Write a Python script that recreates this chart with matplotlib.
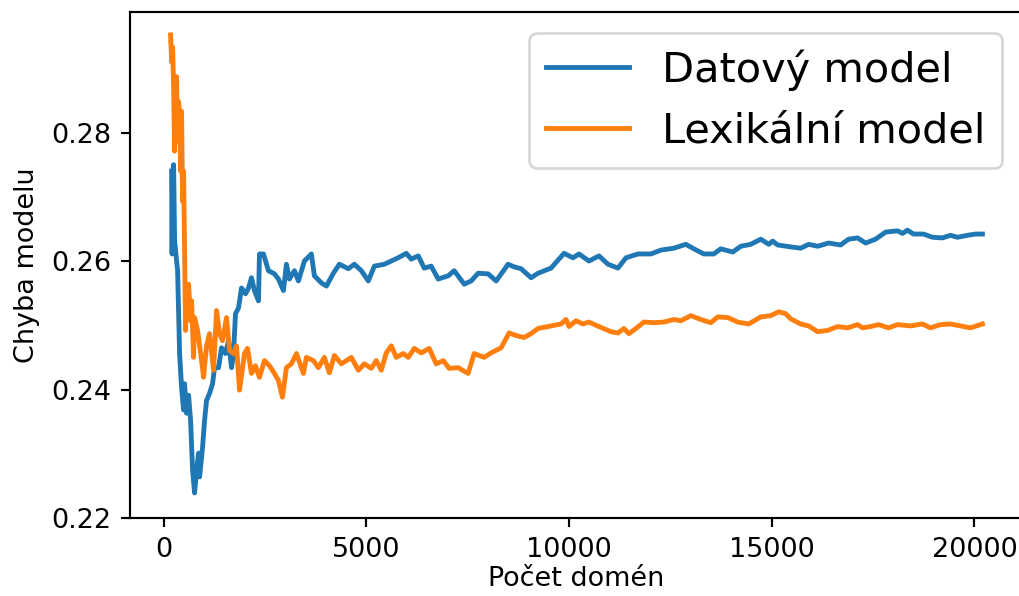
'''
Chyba datoveho a lexikalniho modelu v zavislosti na poctu domen.
'''
import matplotlib
matplotlib.use("Agg")
import matplotlib.pyplot as plt

# hodnoty
data_x = [197, 209, 222, 246, 271, 296, 345, 394, 443, 493,
          517, 566, 616, 665, 714, 764, 813, 862, 887, 961,
          1010, 1059, 1133, 1207, 1256, 1355, 1429, 1527, 1601, 1675,
          1724, 1773, 1847, 1921, 2020, 2094, 2167, 2241, 2340, 2364,
          2463, 2586, 2734, 2832, 2956, 3029, 3103, 3227, 3325, 3473,
          3645, 3719, 3892, 4015, 4187, 4335, 4557, 4704, 4877, 5049,
          5197, 5443, 5616, 5813, 5985, 6108, 6281, 6428, 6601, 6773,
          7020, 7167, 7414, 7586, 7758, 8005, 8202, 8497, 8645, 8818,
          9064, 9236, 9556, 9877, 10098, 10246, 10492, 10739, 10960, 11207,
          11404, 11699, 12019, 12266, 12586, 12881, 13079, 13325, 13571, 13744,
          14039, 14236, 14482, 14729, 14926, 15024, 15147, 15468, 15714, 15911,
          16133, 16404, 16699, 16896, 17118, 17315, 17561, 17808, 18103, 18226,
          18349, 18497, 18743, 18965, 19211, 19408, 19581, 19827, 20024, 20197]
data_err = [0.2740, 0.2611, 0.2732, 0.2750, 0.2631, 0.2616, 0.2585, 0.2456, 0.2403, 0.2368,
            0.2409, 0.2363, 0.2391, 0.2352, 0.2275, 0.2239, 0.2275, 0.2301, 0.2264, 0.2310,
            0.2352, 0.2383, 0.2394, 0.2409, 0.2434, 0.2434, 0.2465, 0.2456, 0.2476, 0.2434,
            0.2456, 0.2518, 0.2527, 0.2558, 0.2549, 0.2558, 0.2574, 0.2554, 0.2538, 0.2611,
            0.2611, 0.2585, 0.2580, 0.2572, 0.2554, 0.2595, 0.2572, 0.2585, 0.2569, 0.2600,
            0.2611, 0.2577, 0.2566, 0.2561, 0.2581, 0.2595, 0.2588, 0.2595, 0.2585, 0.2569,
            0.2592, 0.2595, 0.2600, 0.2606, 0.2612, 0.2603, 0.2608, 0.2589, 0.2592, 0.2572,
            0.2577, 0.2585, 0.2564, 0.2569, 0.2581, 0.2580, 0.2569, 0.2595, 0.2591, 0.2588,
            0.2574, 0.2581, 0.2589, 0.2612, 0.2605, 0.2611, 0.2600, 0.2608, 0.2595, 0.2589,
            0.2605, 0.2611, 0.2611, 0.2617, 0.2620, 0.2626, 0.2619, 0.2611, 0.2611, 0.2619,
            0.2614, 0.2623, 0.2626, 0.2634, 0.2626, 0.2631, 0.2625, 0.2622, 0.2620, 0.2626,
            0.2623, 0.2628, 0.2625, 0.2634, 0.2636, 0.2628, 0.2634, 0.2645, 0.2647, 0.2643,
            0.2648, 0.2642, 0.2642, 0.2637, 0.2636, 0.2640, 0.2637, 0.2640, 0.2642, 0.2642]

lex_x = [172, 197, 222, 246, 271, 296, 320, 345, 369, 394,
         419, 443, 468, 493, 517, 542, 566, 616, 665, 690,
         739, 764, 837, 936, 985, 1059, 1133, 1232, 1305, 1379,
         1453, 1552, 1626, 1724, 1798, 1872, 1995, 2069, 2167, 2266,
         2364, 2488, 2611, 2734, 2832, 2931, 3029, 3153, 3276, 3448,
         3522, 3695, 3818, 3965, 4089, 4212, 4384, 4630, 4803, 4951,
         5123, 5246, 5369, 5492, 5616, 5739, 5911, 6034, 6182, 6355,
         6552, 6724, 6896, 7044, 7266, 7512, 7660, 7906, 8079, 8325,
         8522, 8694, 8891, 9064, 9236, 9483, 9803, 9926, 10000, 10172,
         10345, 10492, 10739, 11034, 11207, 11354, 11478, 11650, 11847, 12093,
         12340, 12586, 12758, 13005, 13251, 13497, 13670, 13916, 14162, 14433,
         14729, 14975, 15172, 15344, 15468, 15714, 15911, 16133, 16379, 16625,
         16872, 17118, 17241, 17438, 17635, 17881, 18103, 18423, 18719, 18916,
         19162, 19408, 19655, 19901, 20197]
lex_err = [0.2952, 0.2910, 0.2933, 0.2871, 0.2771, 0.2879, 0.2887, 0.2786, 0.2848, 0.2833,
           0.2740, 0.2833, 0.2693, 0.2740, 0.2616, 0.2492, 0.2554, 0.2564, 0.2507, 0.2538,
           0.2450, 0.2512, 0.2492, 0.2445, 0.2419, 0.2468, 0.2487, 0.2430, 0.2523, 0.2487,
           0.2476, 0.2512, 0.2461, 0.2456, 0.2468, 0.2399, 0.2456, 0.2464, 0.2425, 0.2437,
           0.2419, 0.2445, 0.2437, 0.2425, 0.2414, 0.2388, 0.2434, 0.2440, 0.2456, 0.2425,
           0.2450, 0.2445, 0.2434, 0.2450, 0.2426, 0.2453, 0.2440, 0.2450, 0.2430, 0.2440,
           0.2433, 0.2445, 0.2430, 0.2457, 0.2468, 0.2450, 0.2456, 0.2450, 0.2464, 0.2457,
           0.2464, 0.2440, 0.2445, 0.2433, 0.2434, 0.2425, 0.2456, 0.2450, 0.2457, 0.2465,
           0.2488, 0.2484, 0.2481, 0.2487, 0.2495, 0.2498, 0.2502, 0.2509, 0.2498, 0.2507,
           0.2502, 0.2505, 0.2498, 0.2490, 0.2488, 0.2495, 0.2487, 0.2495, 0.2505, 0.2504,
           0.2505, 0.2509, 0.2507, 0.2515, 0.2509, 0.2504, 0.2513, 0.2512, 0.2505, 0.2502,
           0.2513, 0.2515, 0.2521, 0.2518, 0.2510, 0.2502, 0.2499, 0.2490, 0.2492, 0.2498,
           0.2496, 0.2501, 0.2496, 0.2498, 0.2501, 0.2496, 0.2501, 0.2499, 0.2502, 0.2496,
           0.2501, 0.2502, 0.2499, 0.2496, 0.2502]

x_ticks = [0, 5000, 10000, 15000, 20000]
y_ticks = [0.22, 0.24, 0.26, 0.28]

DPI = 194
fig = plt.figure(figsize=(1019 / DPI, 596 / DPI), dpi=DPI)
# osy presahuji pravy okraj, stejne jako v puvodnim (orezanem) obrazku
ax = fig.add_axes([130 / 1019, 78 / 596, 893 / 1019, 506 / 596])

ax.plot(data_x, data_err, label="Datový model", linewidth=1.8)
ax.plot(lex_x, lex_err, label="Lexikální model", linewidth=1.8)

# popisek osy x posunut o kousek vys, aby se vesel cely
ax.set_xlabel("Počet domén", labelpad=1)
ax.set_ylabel("Chyba modelu")
ax.set_xticks(x_ticks)
ax.set_yticks(y_ticks)

ax.legend(loc="upper right", fontsize=15.4)

fig.savefig("out.png", dpi=DPI)
